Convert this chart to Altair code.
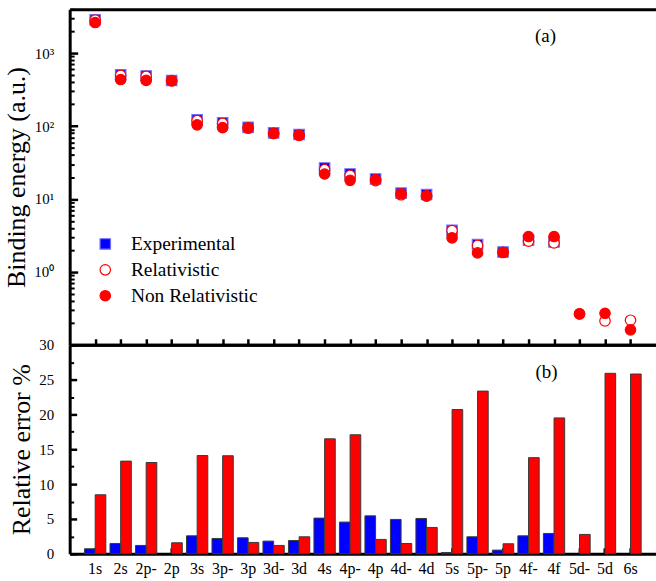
import altair as alt
import pandas as pd

FONT = "'Liberation Serif', 'Times New Roman', Times, serif"

orbitals = ["1s", "2s", "2p-", "2p", "3s", "3p-", "3p", "3d-", "3d", "4s", "4p-",
            "4p", "4d-", "4d", "5s", "5p-", "5p", "4f-", "4f", "5d-", "5d", "6s"]

series_names = ["Experimental", "Relativistic", "Non Relativistic"]

experimental = [2870, 503, 487, 422, 122, 111, 96, 80.5, 76.5, 26.6, 22.0,
                18.8, 12.0, 11.5, 3.70, 2.36, 1.87, 2.71, 2.57, None, None, None]
relativistic = [2850, 496, 481, 422, 118.9, 108.6, 93.8, 79.0, 75.0, 25.2, 21.0,
                17.8, 11.4, 10.9, 3.69, 2.30, 1.86, 2.64, 2.49, 0.265, 0.212, 0.217]
non_relativistic = [2633, 435, 423, 415, 104, 95, 94.5, 79.5, 74.6, 22.0, 18.0,
                    18.4, 11.8, 11.07, 2.93, 1.82, 1.84, 3.05, 3.05, 0.265, 0.270, 0.160]

err_series = ["Relativistic", "Non Relativistic"]
err_relativistic = [0.72, 1.48, 1.2, None, 2.58, 2.2, 2.3, 1.82, 1.91, 5.12, 4.55,
                    5.45, 4.93, 5.07, 0.19, 2.44, 0.53, 2.58, 2.92, None, None, None]
err_non_relativistic = [8.47, 13.3, 13.1, 1.58, 14.1, 14.07, 1.63, 1.2, 2.44, 16.5, 17.08,
                        2.06, 1.48, 3.78, 20.7, 23.35, 1.44, 13.8, 19.5, 2.78, 25.9, 25.8]

panel_labels = ["(a)", "(b)"]

# ---------- tables ----------
rows = []
for name, vals in zip(series_names, [experimental, relativistic, non_relativistic]):
    for orb, v in zip(orbitals, vals):
        if v is not None:
            rows.append({"orbital": orb, "series": name, "value": v})
top_df = pd.DataFrame(rows)

rows = []
for name, vals in zip(err_series, [err_relativistic, err_non_relativistic]):
    for orb, v in zip(orbitals, vals):
        if v is not None:
            rows.append({"orbital": orb, "etype": name, "err": v})
bot_df = pd.DataFrame(rows)

W = 589
H_TOP = 337
H_BOT = 210

# ---------- top panel ----------
xs_top = alt.Scale(type="point", padding=1, domain=orbitals)
ys_top = alt.Scale(type="log", domain=[0.1, 4000], nice=False)

major_log = [0.1, 1, 10, 100, 1000]
minor_log = [k * m for m in [0.1, 1, 10, 100, 1000] for k in range(2, 10) if k * m <= 4000]

leg = alt.Legend(title=None)
pts = alt.Chart(top_df).mark_point(size=110, strokeWidth=1.2, opacity=1).encode(
    x=alt.X("orbital:N", scale=xs_top,
            axis=alt.Axis(orient="bottom", title=None, labels=False, ticks=False,
                          domain=True, domainColor="black", domainWidth=3, grid=False)),
    y=alt.Y("value:Q", scale=ys_top,
            axis=alt.Axis(orient="left", values=[1, 10, 100, 1000],
                          labelExpr="datum.value >= 1000 ? '10\u00b3' : datum.value >= 100 ? '10\u00b2' : datum.value >= 10 ? '10\u00b9' : '10\u2070'",
                          ticks=False, domain=True, domainColor="black", domainWidth=3,
                          labelPadding=16, labelFontSize=15, labelFont=FONT, labelColor="black",
                          title="Binding energy (a.u.)", titleFontSize=26, titleFont=FONT,
                          titleFontWeight="normal", titleColor="black", titlePadding=4, grid=False)),
    shape=alt.Shape("series:N", scale=alt.Scale(domain=series_names, range=["square", "circle", "circle"]), legend=leg),
    fill=alt.Fill("series:N", scale=alt.Scale(domain=series_names, range=["#0000FF", "#FFFFFF", "#FF0000"]), legend=leg),
    stroke=alt.Stroke("series:N", scale=alt.Scale(domain=series_names, range=["#6f6fff", "#FF0000", "#FF0000"]), legend=leg),
)

top_ticks_major = alt.Chart(top_df).mark_point(opacity=0).encode(
    x=alt.X("orbital:N", scale=xs_top,
            axis=alt.Axis(orient="bottom", title=None, labels=False, domain=False, ticks=True,
                          tickSize=6, tickWidth=2.5, tickColor="black", offset=-6, grid=False)),
    y=alt.Y("value:Q", scale=ys_top,
            axis=alt.Axis(orient="left", values=major_log, title=None, labels=False, domain=False,
                          ticks=True, tickSize=8, tickWidth=2.5, tickColor="black", offset=-8, grid=False)),
)

top_ticks_minor = alt.Chart(top_df).mark_point(opacity=0).encode(
    x=alt.X("orbital:N", scale=xs_top,
            axis=alt.Axis(orient="top", title=None, labels=False, ticks=False, domain=True,
                          domainColor="black", domainWidth=3, grid=False)),
    y=alt.Y("value:Q", scale=ys_top,
            axis=alt.Axis(orient="left", values=minor_log, title=None, labels=False, domain=False,
                          ticks=True, tickSize=4.5, tickWidth=2, tickColor="black", offset=-4.5, grid=False)),
)

label_a = alt.Chart(pd.DataFrame({"t": [panel_labels[0]]})).mark_text(
    font=FONT, fontSize=19, color="black", align="center", baseline="middle"
).encode(text="t:N", x=alt.value(478), y=alt.value(27))

top = alt.layer(pts, top_ticks_major, top_ticks_minor, label_a).resolve_axis(
    x="independent", y="independent").properties(width=W, height=H_TOP)

# ---------- bottom panel ----------
xs_bot = alt.Scale(type="band", domain=orbitals, paddingInner=0.164, paddingOuter=0.582)
ys_bot = alt.Scale(domain=[0, 30], nice=False)

bars = alt.Chart(bot_df).mark_bar(stroke="#3a3a3a", strokeWidth=1).encode(
    x=alt.X("orbital:N", scale=xs_bot,
            axis=alt.Axis(orient="bottom", title=None, labels=True, ticks=False, domain=True,
                          domainColor="black", domainWidth=3, labelFontSize=16, labelFont=FONT,
                          labelColor="black", labelAngle=0, labelPadding=7, bandPosition=0.5, grid=False)),
    xOffset=alt.XOffset("etype:N", scale=alt.Scale(domain=err_series, paddingInner=0, paddingOuter=0)),
    y=alt.Y("err:Q", scale=ys_bot,
            axis=alt.Axis(orient="left", values=[0, 5, 10, 15, 20, 25, 30], ticks=False, domain=True,
                          domainColor="black", domainWidth=3, labelPadding=16, labelFontSize=15,
                          labelFont=FONT, labelColor="black", title="Relative error %",
                          titleFontSize=26, titleFont=FONT, titleFontWeight="normal",
                          titleColor="black", titlePadding=4, grid=False)),
    color=alt.Color("etype:N", scale=alt.Scale(domain=err_series, range=["#0000FF", "#FF0000"]), legend=None),
)

bot_ticks_major = alt.Chart(bot_df).mark_point(opacity=0).encode(
    x=alt.X("orbital:N", scale=xs_bot,
            axis=alt.Axis(orient="bottom", title=None, labels=False, domain=False, ticks=True,
                          tickSize=6, tickWidth=2.5, tickColor="black", offset=-6, bandPosition=0.5, grid=False)),
    y=alt.Y("err:Q", scale=ys_bot,
            axis=alt.Axis(orient="left", values=[0, 5, 10, 15, 20, 25, 30], title=None, labels=False,
                          domain=False, ticks=True, tickSize=7, tickWidth=2.5, tickColor="black",
                          offset=-7, grid=False)),
)

bot_ticks_minor = alt.Chart(bot_df).mark_point(opacity=0).encode(
    x=alt.X("orbital:N", scale=xs_bot,
            axis=alt.Axis(orient="top", title=None, labels=False, ticks=False, domain=True,
                          domainColor="black", domainWidth=3, grid=False)),
    y=alt.Y("err:Q", scale=ys_bot,
            axis=alt.Axis(orient="left", values=[2.5, 7.5, 12.5, 17.5, 22.5, 27.5], title=None,
                          labels=False, domain=False, ticks=True, tickSize=4, tickWidth=2,
                          tickColor="black", offset=-4, grid=False)),
)

label_b = alt.Chart(pd.DataFrame({"t": [panel_labels[1]]})).mark_text(
    font=FONT, fontSize=19, color="black", align="center", baseline="middle"
).encode(text="t:N", x=alt.value(479), y=alt.value(27))

bottom = alt.layer(bars, bot_ticks_major, bot_ticks_minor, label_b).resolve_axis(
    x="independent", y="independent").properties(width=W, height=H_BOT)

chart = alt.vconcat(top, bottom, spacing=0, bounds="flush").properties(
    padding={"left": 4, "top": 7, "right": 0, "bottom": 0}
).configure(font=FONT).configure_view(stroke=None).configure_legend(
    orient="none", legendX=26, legendY=226, padding=0, labelFont=FONT, labelFontSize=19.5,
    labelColor="black", symbolSize=110, symbolStrokeWidth=1.2, rowPadding=5, labelOffset=16
)

chart.save("out.html", embed_options={"renderer": "svg", "actions": False})
